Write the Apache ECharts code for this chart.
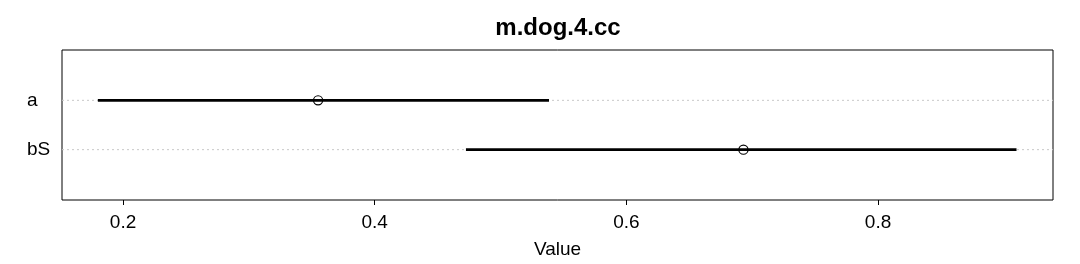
<!DOCTYPE html>
<html><head><meta charset="utf-8">
<script src="https://cdn.jsdelivr.net/npm/echarts@6/dist/echarts.min.js"></script>
<style>html,body{margin:0;padding:0;background:#fff}#c{width:1080px;height:264px}</style>
</head><body><div id="c"></div>
<script>
const categories = ['a', 'bS'];
const means = [0.355, 0.693];
const lower = [0.180, 0.4725];
const upper = [0.5385, 0.910];
const xTicks = [0.2, 0.4, 0.6, 0.8];
const title = 'm.dog.4.cc';
const xName = 'Value';

const rows = categories.map((c, i) => [i + 1, lower[i], upper[i], means[i]]);
const chart = echarts.init(document.getElementById('c'), null, {renderer: 'canvas'});
const font = 'Liberation Sans, Arial, sans-serif';
chart.setOption({
  animation: false,
  title: {text: title, left: 553, top: 11, textAlign: 'center',
    textStyle: {fontFamily: font, fontSize: 24, fontWeight: 'bold', color: '#000'}},
  grid: {left: 62, right: 27, top: 50, bottom: 61, show: true, borderColor: '#000', borderWidth: 1},
  xAxis: {type: 'value', min: 0.1515, max: 0.939, position: 'bottom',
    name: xName, nameLocation: 'middle', nameGap: 40,
    nameTextStyle: {fontFamily: font, fontSize: 19, color: '#000'},
    axisLine: {show: false, onZero: false}, splitLine: {show: false},
    axisTick: {show: true, customValues: xTicks, length: 5, lineStyle: {color: '#000'}},
    axisLabel: {customValues: xTicks, fontFamily: font, fontSize: 19, color: '#000', margin: 13,
      formatter: v => v.toFixed(1)}},
  yAxis: {type: 'value', min: -0.02, max: 3.02, inverse: true,
    axisLine: {show: false, onZero: false}, splitLine: {show: false}, axisTick: {show: false},
    axisLabel: {customValues: categories.map((c, i) => i + 1), align: 'left', margin: 35,
      fontFamily: font, fontSize: 19, color: '#000',
      formatter: v => categories[Math.round(v) - 1] || ''}},
  series: [{
    type: 'custom', data: rows, encode: {x: [1, 2, 3], y: 0},
    renderItem: (params, api) => {
      const y = api.value(0);
      const p0 = api.coord([api.value(1), y]);
      const p1 = api.coord([api.value(2), y]);
      const pm = api.coord([api.value(3), y]);
      const cs = params.coordSys;
      return {type: 'group', children: [
        {type: 'line', shape: {x1: cs.x, y1: p0[1], x2: cs.x + cs.width, y2: p0[1]},
          style: {stroke: '#c8c8c8', lineWidth: 1, lineDash: [2, 3]}},
        {type: 'line', shape: {x1: p0[0], y1: p0[1], x2: p1[0], y2: p1[1]},
          style: {stroke: '#000', lineWidth: 2.6}},
        {type: 'circle', shape: {cx: pm[0], cy: pm[1], r: 4.6},
          style: {fill: 'none', stroke: '#000', lineWidth: 1.2}}
      ]};
    }
  }]
});
</script></body></html>
